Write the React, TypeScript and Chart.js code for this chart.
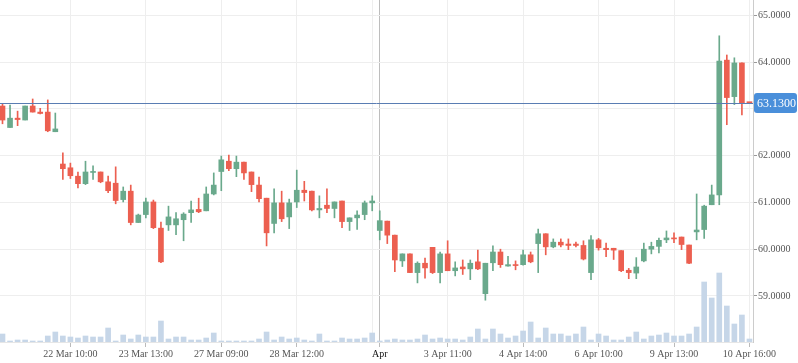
import React, { useEffect, useRef } from "react";
import { Chart, registerables } from "chart.js";

Chart.register(...registerables);

const opens = [63.06,62.60,62.80,62.76,63.06,62.93,62.93,62.51,61.82,61.74,61.56,61.40,61.64,61.65,61.44,61.41,61.06,61.24,60.57,60.74,61.01,60.45,60.52,60.52,60.63,60.78,60.85,60.82,61.18,61.66,61.88,61.72,61.86,61.65,61.37,61.09,60.55,60.99,60.69,61.01,61.26,61.24,60.84,60.94,60.87,61.03,60.59,60.67,60.74,60.99,60.40,60.60,60.30,59.75,59.90,59.50,59.70,60.04,59.50,59.90,59.54,59.62,59.58,59.73,59.05,59.71,59.94,59.64,59.67,59.67,59.88,60.12,60.33,60.05,60.15,60.11,60.11,60.08,59.50,60.20,60.02,60.02,59.97,59.55,59.49,59.75,60.00,60.06,60.20,60.24,60.26,60.09,60.37,60.42,60.95,61.16,64.04,63.26,63.98,63.13];
const highs = [63.10,63.08,62.95,63.06,63.21,63.01,63.19,62.91,62.06,61.84,61.65,61.88,61.78,61.65,61.56,61.76,61.33,61.37,60.75,61.09,61.05,60.58,60.92,60.78,60.78,61.03,61.09,61.33,61.63,61.99,62.01,61.99,61.86,61.65,61.54,61.09,61.29,61.24,61.07,61.69,61.45,61.24,61.14,61.29,61.01,61.03,60.67,60.82,61.03,61.14,60.82,60.60,60.30,59.90,59.90,59.73,59.81,60.04,59.94,60.18,59.73,59.77,59.77,59.98,59.70,60.07,60.00,59.85,59.75,59.98,59.94,60.43,60.33,60.22,60.22,60.22,60.15,60.18,60.29,60.23,60.13,60.02,59.97,59.59,59.82,60.13,60.15,60.24,60.39,60.35,60.26,60.09,61.18,60.94,61.37,64.56,64.15,64.09,63.98,63.13];
const lows = [62.68,62.60,62.64,62.76,62.93,62.89,62.51,62.51,61.49,61.51,61.31,61.38,61.49,61.42,61.21,60.97,61.01,60.52,60.57,60.67,60.44,59.71,60.40,60.31,60.18,60.57,60.78,60.82,61.16,61.25,61.68,61.55,61.49,61.23,61.01,60.07,60.35,60.59,60.44,60.89,61.03,60.82,60.67,60.78,60.67,60.46,60.40,60.42,60.63,60.82,60.20,60.12,59.52,59.63,59.50,59.28,59.38,59.48,59.28,59.54,59.43,59.46,59.35,59.56,58.91,59.54,59.61,59.64,59.56,59.66,59.71,59.50,59.88,60.03,60.05,59.99,60.05,59.77,59.35,59.98,59.84,59.78,59.52,59.37,59.37,59.73,59.90,59.92,60.14,60.14,59.99,59.69,60.20,60.23,60.95,60.95,62.66,63.09,62.87,63.13];
const closes = [62.76,62.80,62.77,63.06,62.93,62.90,62.53,62.57,61.72,61.57,61.40,61.65,61.66,61.44,61.25,61.04,61.24,60.57,60.73,61.01,60.46,59.73,60.69,60.65,60.75,60.84,60.80,61.18,61.37,61.91,61.72,61.86,61.63,61.38,61.08,60.35,60.99,60.65,60.99,61.26,61.21,60.84,60.87,60.87,61.01,60.59,60.67,60.73,60.99,61.03,60.61,60.30,59.77,59.90,59.50,59.70,59.60,59.50,59.90,59.54,59.60,59.58,59.70,59.58,59.70,59.94,59.67,59.67,59.65,59.88,59.73,60.33,60.05,60.15,60.09,60.08,60.08,59.79,60.20,60.03,59.99,59.98,59.54,59.50,59.62,60.00,60.06,60.19,60.24,60.22,60.10,59.70,60.41,60.92,61.16,64.02,63.24,63.98,63.13,63.13];
const volumes = [8,1,2,2,1,1,6,10,6,5,4,6,5,5,14,1,7,3,7,5,5,21,3,5,5,2,2,4,9,1,1,1,1,1,3,10,2,5,3,4,2,1,8,1,1,4,3,3,4,9,1,2,3,2,2,3,7,3,4,3,3,2,5,13,3,13,8,4,6,11,20,4,14,8,8,6,8,15,2,8,6,2,2,5,10,3,6,7,9,6,6,8,15,60,44,69,36,18,27,3];

const gridIndices = [9, 19, 29, 39, 49, 50, 59, 69, 79, 89, 99];
const tickIndices = [9, 19, 29, 39, 50, 59, 69, 79, 89, 99];
const tickLabels = ["22 Mar 10:00", "23 Mar 13:00", "27 Mar 09:00", "28 Mar 12:00", "Apr", "3 Apr 11:00", "4 Apr 14:00", "6 Apr 10:00", "9 Apr 13:00", "10 Apr 16:00"];
const priceTicks = [59, 60, 61, 62, 63, 64, 65];
const crosshairIndex = 50;
const lastPrice = 63.13;

const UP = "#6aa98c";
const DOWN = "#ec5f50";
const FONT = "'Liberation Serif', 'DejaVu Serif', serif";

export default function App() {
  const ref = useRef<HTMLCanvasElement | null>(null);
  useEffect(() => {
    document.body.style.margin = "0";
    const canvas = ref.current;
    if (!canvas) return;
    const colors = opens.map((o, i) => (closes[i] > o ? UP : DOWN));
    const priceLine = {
      id: "priceLine",
      afterDatasetsDraw(chart: any) {
        const { ctx, chartArea } = chart;
        const y = chart.scales.y.getPixelForValue(lastPrice);
        ctx.save();
        ctx.strokeStyle = "#5a7db3";
        ctx.lineWidth = 1;
        ctx.beginPath();
        ctx.moveTo(chartArea.left, Math.round(y) + 0.5);
        ctx.lineTo(chartArea.right, Math.round(y) + 0.5);
        ctx.stroke();
        ctx.restore();
      },
      afterDraw(chart: any) {
        const { ctx, chartArea } = chart;
        const y = Math.round(chart.scales.y.getPixelForValue(lastPrice));
        const x0 = chartArea.right + 1;
        const w = 43;
        const h = 20;
        ctx.save();
        ctx.fillStyle = "#4a8fda";
        ctx.beginPath();
        (ctx as any).roundRect(x0, y - h / 2, w, h, 3);
        ctx.fill();
        ctx.fillStyle = "#ffffff";
        ctx.font = `12px ${FONT}`;
        ctx.textBaseline = "middle";
        ctx.textAlign = "left";
        ctx.fillText(lastPrice.toFixed(4), x0 + 3, y + 1);
        ctx.restore();
      },
    };
    const chart = new Chart(canvas, {
      type: "bar",
      data: {
        datasets: [
          {
            label: "body",
            data: opens.map((o, i) => ({ x: i, y: [o, closes[i]] })) as any,
            backgroundColor: colors,
            barThickness: 5,
            minBarLength: 1,
            grouped: false,
            order: 1,
            yAxisID: "y",
          } as any,
          {
            label: "wick",
            data: opens.map((_, i) => ({ x: i, y: [lows[i], highs[i]] })) as any,
            backgroundColor: colors,
            barThickness: 1,
            grouped: false,
            order: 2,
            yAxisID: "y",
          } as any,
          {
            label: "volume",
            data: volumes.map((v, i) => ({ x: i, y: v })) as any,
            backgroundColor: "#c6d6e8",
            barThickness: 5,
            grouped: false,
            order: 3,
            yAxisID: "yv",
          } as any,
        ],
      },
      options: {
        animation: false,
        responsive: true,
        maintainAspectRatio: false,
        layout: { padding: 0 },
        plugins: { legend: { display: false }, tooltip: { enabled: false } },
        scales: {
          x: {
            type: "linear",
            offset: false,
            min: -0.331,
            max: 99.47,
            afterBuildTicks: (axis: any) => {
              axis.ticks = gridIndices.map((v) => ({ value: v }));
            },
            afterFit: (axis: any) => {
              axis.height = 21;
              axis.paddingLeft = 0;
              axis.paddingRight = 0;
            },
            grid: {
              offset: false,
              color: (ctx: any) => (ctx.tick && ctx.tick.value === crosshairIndex ? "#bdbdbd" : "#eeeeee"),
              tickColor: (ctx: any) => (ctx.tick && tickIndices.includes(ctx.tick.value) ? "#bbbbbb" : "rgba(0,0,0,0)"),
              tickLength: 5,
              drawTicks: true,
            },
            border: { display: true, color: "#e6e6e6" },
            ticks: {
              autoSkip: false,
              maxRotation: 0,
              padding: 1,
              color: (ctx: any) => (ctx.tick && ctx.tick.value === crosshairIndex ? "#111111" : "#555555"),
              font: { family: FONT, size: 10 },
              callback: (v: any) => {
                const k = tickIndices.indexOf(Number(v));
                return k >= 0 ? tickLabels[k] : "";
              },
            },
          },
          y: {
            position: "right",
            min: 58.017,
            max: 65.325,
            afterBuildTicks: (axis: any) => {
              axis.ticks = priceTicks.map((v) => ({ value: v }));
            },
            afterFit: (axis: any) => {
              axis.width = 45;
              axis.paddingTop = 0;
              axis.paddingBottom = 0;
            },
            grid: { color: "#eeeeee", tickColor: "#999999", tickLength: 4, drawTicks: true },
            border: { display: true, color: "#cccccc" },
            ticks: {
              padding: 1,
              color: "#555555",
              font: { family: FONT, size: 10 },
              callback: (v: any) => (Number(v) === 63 ? "" : Number(v).toFixed(4)),
            },
          },
          yv: {
            display: false,
            min: 0,
            max: 342,
          },
        },
      } as any,
      plugins: [priceLine],
    });
    return () => chart.destroy();
  }, []);
  return (
    <div style={{ width: 798, height: 363, position: "relative" }}>
      <canvas ref={ref} />
    </div>
  );
}
